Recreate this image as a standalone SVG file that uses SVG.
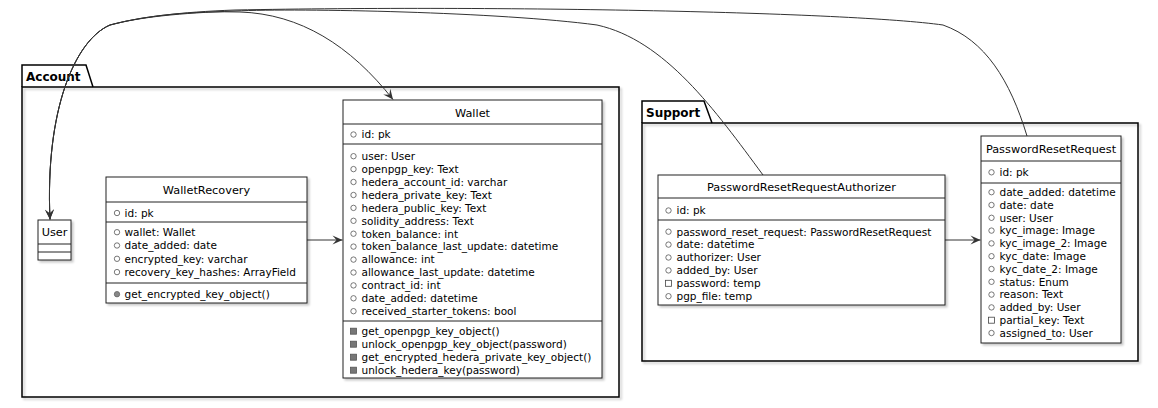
<svg xmlns="http://www.w3.org/2000/svg" width="1158" height="408" viewBox="0 0 1158 408">
<style>
.pkg{fill:none;stroke:#000;stroke-width:1.5}
.pkt{font-family:"DejaVu Sans",sans-serif;font-weight:bold;font-size:12px;fill:#000}
.box{fill:#fff;stroke:#222;stroke-width:1}
.sep{stroke:#222;stroke-width:1}
.t{font-family:"DejaVu Sans",sans-serif;font-size:11.3px;fill:#000;text-anchor:middle}
.a{font-family:"DejaVu Sans",sans-serif;font-size:10.5px;fill:#000}
.ic{fill:none;stroke:#555;stroke-width:0.8}
.icf{fill:#888;stroke:#666;stroke-width:0.8}
.sq{fill:none;stroke:#444;stroke-width:0.8}
.sqf{fill:#777;stroke:#555;stroke-width:0.8}
.ln{fill:none;stroke:#333;stroke-width:1}
</style>
<defs>
<filter id="sh" x="-10%" y="-10%" width="130%" height="130%"><feDropShadow dx="2" dy="2" stdDeviation="1" flood-color="#000" flood-opacity="0.22"/></filter>
<marker id="ah" markerUnits="userSpaceOnUse" markerWidth="12" markerHeight="12" viewBox="-11 -6 12 12" refX="0" refY="0" orient="auto"><path d="M0,0 L-10,-4.5 L-6,0 L-10,4.5 Z" fill="#333"/></marker>
</defs>
<rect width="1158" height="408" fill="#fff"/>
<g id="pkg-account">
<path class="pkg" d="M22,87 L22,65 L86,65 L93,87"/>
<rect class="pkg" x="22" y="87" width="597" height="310" filter="url(#sh)"/>
<text class="pkt" x="26" y="81">Account</text>
</g>
<g id="pkg-support">
<path class="pkg" d="M642,123 L642,101 L704,101 L712,123"/>
<rect class="pkg" x="642" y="123" width="496" height="238" filter="url(#sh)"/>
<text class="pkt" x="646" y="117">Support</text>
</g>
<g id="connectors">
<path class="ln" d="M50,219 C45,110 75,40 110,25 C150,14 200,11 240,12 C300,14 350,45 393,99.5" marker-end="url(#ah)"/>
<path class="ln" d="M763,175 C715,110 665,40 597,25 C500,12 300,8 235,11 C180,13 140,17 110,25 C75,40 45,110 50,219.5" marker-end="url(#ah)"/>
<path class="ln" d="M1027,136 C1010,80 985,40 943,25 C850,12 500,5 235,10 C180,12 140,17 110,25 C75,40 45,110 50,219.5" marker-end="url(#ah)"/>
<path class="ln" d="M307,240 L342.5,240" marker-end="url(#ah)"/>
<path class="ln" d="M945,240 L980.5,240" marker-end="url(#ah)"/>
</g>
<g id="User">
<rect class="box" x="38" y="220" width="33" height="40" filter="url(#sh)"/>
<line class="sep" x1="38" y1="244" x2="71" y2="244"/>
<line class="sep" x1="38" y1="252" x2="71" y2="252"/>
<text class="t" x="54.5" y="236">User</text>
</g>
<g id="WalletRecovery">
<rect class="box" x="106" y="177" width="201" height="126" filter="url(#sh)"/>
<line class="sep" x1="106" y1="202" x2="307" y2="202"/>
<line class="sep" x1="106" y1="222" x2="307" y2="222"/>
<line class="sep" x1="106" y1="283" x2="307" y2="283"/>
<text class="t" x="206.5" y="193.5">WalletRecovery</text>
<circle class="ic" cx="117" cy="213" r="2.7"/><text class="a" x="124.5" y="217">id: pk</text>
<circle class="ic" cx="117" cy="232.2" r="2.7"/><text class="a" x="124.5" y="236">wallet: Wallet</text>
<circle class="ic" cx="117" cy="245.5" r="2.7"/><text class="a" x="124.5" y="249.3">date_added: date</text>
<circle class="ic" cx="117" cy="258.8" r="2.7"/><text class="a" x="124.5" y="262.6">encrypted_key: varchar</text>
<circle class="ic" cx="117" cy="272.1" r="2.7"/><text class="a" x="124.5" y="275.9">recovery_key_hashes: ArrayField</text>
<circle class="icf" cx="117" cy="294.2" r="2.7"/><text class="a" x="124.5" y="298">get_encrypted_key_object()</text>
</g>
<g id="Wallet">
<rect class="box" x="343" y="100" width="259" height="278" filter="url(#sh)"/>
<line class="sep" x1="343" y1="124" x2="602" y2="124"/>
<line class="sep" x1="343" y1="144" x2="602" y2="144"/>
<line class="sep" x1="343" y1="321" x2="602" y2="321"/>
<text class="t" x="472.5" y="116.5">Wallet</text>
<circle class="ic" cx="353.5" cy="134.5" r="2.7"/><text class="a" x="361.5" y="138.3">id: pk</text>
<circle class="ic" cx="353.5" cy="156.2" r="2.7"/><text class="a" x="361.5" y="160">user: User</text>
<circle class="ic" cx="353.5" cy="169.1" r="2.7"/><text class="a" x="361.5" y="172.9">openpgp_key: Text</text>
<circle class="ic" cx="353.5" cy="182" r="2.7"/><text class="a" x="361.5" y="185.8">hedera_account_id: varchar</text>
<circle class="ic" cx="353.5" cy="195" r="2.7"/><text class="a" x="361.5" y="198.8">hedera_private_key: Text</text>
<circle class="ic" cx="353.5" cy="207.9" r="2.7"/><text class="a" x="361.5" y="211.7">hedera_public_key: Text</text>
<circle class="ic" cx="353.5" cy="220.8" r="2.7"/><text class="a" x="361.5" y="224.6">solidity_address: Text</text>
<circle class="ic" cx="353.5" cy="233.7" r="2.7"/><text class="a" x="361.5" y="237.5">token_balance: int</text>
<circle class="ic" cx="353.5" cy="246.6" r="2.7"/><text class="a" x="361.5" y="250.4">token_balance_last_update: datetime</text>
<circle class="ic" cx="353.5" cy="259.6" r="2.7"/><text class="a" x="361.5" y="263.4">allowance: int</text>
<circle class="ic" cx="353.5" cy="272.5" r="2.7"/><text class="a" x="361.5" y="276.3">allowance_last_update: datetime</text>
<circle class="ic" cx="353.5" cy="285.4" r="2.7"/><text class="a" x="361.5" y="289.2">contract_id: int</text>
<circle class="ic" cx="353.5" cy="298.3" r="2.7"/><text class="a" x="361.5" y="302.1">date_added: datetime</text>
<circle class="ic" cx="353.5" cy="311.2" r="2.7"/><text class="a" x="361.5" y="315">received_starter_tokens: bool</text>
<rect class="sqf" x="350.5" y="328.2" width="6" height="6"/><text class="a" x="361.5" y="335">get_openpgp_key_object()</text>
<rect class="sqf" x="350.5" y="341.2" width="6" height="6"/><text class="a" x="361.5" y="348">unlock_openpgp_key_object(password)</text>
<rect class="sqf" x="350.5" y="354.2" width="6" height="6"/><text class="a" x="361.5" y="361">get_encrypted_hedera_private_key_object()</text>
<rect class="sqf" x="350.5" y="367.2" width="6" height="6"/><text class="a" x="361.5" y="374">unlock_hedera_key(password)</text>
</g>
<g id="PasswordResetRequestAuthorizer">
<rect class="box" x="658" y="175" width="287" height="130" filter="url(#sh)"/>
<line class="sep" x1="658" y1="198" x2="945" y2="198"/>
<line class="sep" x1="658" y1="220" x2="945" y2="220"/>
<text class="t" x="801.5" y="191">PasswordResetRequestAuthorizer</text>
<circle class="ic" cx="668.5" cy="210.5" r="2.7"/><text class="a" x="676.5" y="214.3">id: pk</text>
<circle class="ic" cx="668.5" cy="231.7" r="2.7"/><text class="a" x="676.5" y="235.5">password_reset_request: PasswordResetRequest</text>
<circle class="ic" cx="668.5" cy="244.6" r="2.7"/><text class="a" x="676.5" y="248.4">date: datetime</text>
<circle class="ic" cx="668.5" cy="257.5" r="2.7"/><text class="a" x="676.5" y="261.3">authorizer: User</text>
<circle class="ic" cx="668.5" cy="270.4" r="2.7"/><text class="a" x="676.5" y="274.2">added_by: User</text>
<rect class="sq" x="665.5" y="280.3" width="6" height="6"/><text class="a" x="676.5" y="287.1">password: temp</text>
<circle class="ic" cx="668.5" cy="296.2" r="2.7"/><text class="a" x="676.5" y="300">pgp_file: temp</text>
</g>
<g id="PasswordResetRequest">
<rect class="box" x="981" y="136" width="140" height="207" filter="url(#sh)"/>
<line class="sep" x1="981" y1="161" x2="1121" y2="161"/>
<line class="sep" x1="981" y1="183" x2="1121" y2="183"/>
<text class="t" x="1051" y="152.5">PasswordResetRequest</text>
<circle class="ic" cx="991.5" cy="172.3" r="2.7"/><text class="a" x="999.5" y="176.1">id: pk</text>
<circle class="ic" cx="991.5" cy="192.2" r="2.7"/><text class="a" x="999.5" y="196">date_added: datetime</text>
<circle class="ic" cx="991.5" cy="205" r="2.7"/><text class="a" x="999.5" y="208.8">date: date</text>
<circle class="ic" cx="991.5" cy="217.8" r="2.7"/><text class="a" x="999.5" y="221.6">user: User</text>
<circle class="ic" cx="991.5" cy="230.6" r="2.7"/><text class="a" x="999.5" y="234.4">kyc_image: Image</text>
<circle class="ic" cx="991.5" cy="243.4" r="2.7"/><text class="a" x="999.5" y="247.2">kyc_image_2: Image</text>
<circle class="ic" cx="991.5" cy="256.2" r="2.7"/><text class="a" x="999.5" y="260">kyc_date: Image</text>
<circle class="ic" cx="991.5" cy="269" r="2.7"/><text class="a" x="999.5" y="272.8">kyc_date_2: Image</text>
<circle class="ic" cx="991.5" cy="281.8" r="2.7"/><text class="a" x="999.5" y="285.6">status: Enum</text>
<circle class="ic" cx="991.5" cy="294.6" r="2.7"/><text class="a" x="999.5" y="298.4">reason: Text</text>
<circle class="ic" cx="991.5" cy="307.4" r="2.7"/><text class="a" x="999.5" y="311.2">added_by: User</text>
<rect class="sq" x="988.5" y="317.2" width="6" height="6"/><text class="a" x="999.5" y="324">partial_key: Text</text>
<circle class="ic" cx="991.5" cy="333" r="2.7"/><text class="a" x="999.5" y="336.8">assigned_to: User</text>
</g>
</svg>
